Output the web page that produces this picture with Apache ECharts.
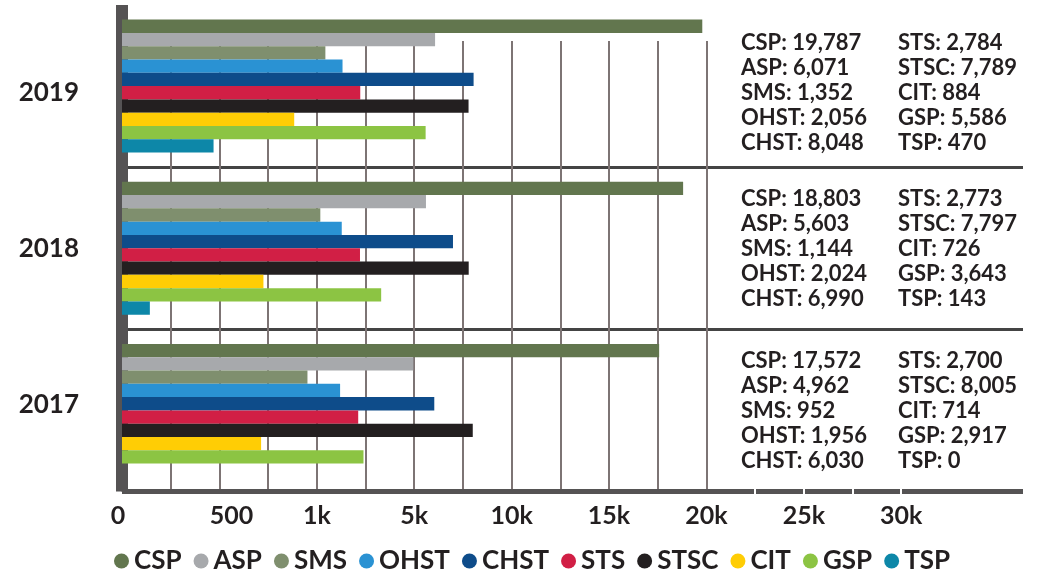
<!DOCTYPE html>
<html>
<head>
<meta charset="utf-8">
<script src="https://cdn.jsdelivr.net/npm/echarts@6.0.0/dist/echarts.min.js"></script>
<style>
html, body { margin: 0; padding: 0; background: #fff; }
#chart { width: 1037px; height: 572px; }
</style>
</head>
<body>
<div id="chart"></div>
<script>
var years = ['2019', '2018', '2017'];
var names = ['CSP', 'ASP', 'SMS', 'OHST', 'CHST', 'STS', 'STSC', 'CIT', 'GSP', 'TSP'];
var colors = ['#62764e', '#a7a9ac', '#7f8f6e', '#2a92d3', '#0e4c8a', '#d11f45', '#231f20', '#ffcd05', '#8cc443', '#0d87a8'];
var values2019 = [19787, 6071, 1352, 2056, 8048, 2784, 7789, 884, 5586, 470];
var values2018 = [18803, 5603, 1144, 2024, 6990, 2773, 7797, 726, 3643, 143];
var values2017 = [17572, 4962, 952, 1956, 6030, 2700, 8005, 714, 2917, 0];
var tickValues = [0, 500, 1000, 5000, 10000, 15000, 20000, 25000, 30000];
var tickLabels = ['0', '500', '1k', '5k', '10k', '15k', '20k', '25k', '30k'];

var byYear = [values2019, values2018, values2017];

// piecewise axis: every labelled step gets the same width
function toPos(v){
  for(var i = 0; i < tickValues.length - 1; i++){
    if(v <= tickValues[i+1]){
      return i + (v - tickValues[i]) / (tickValues[i+1] - tickValues[i]);
    }
  }
  return tickValues.length - 1;
}

function fmt(n){
  return n.toLocaleString('en-US');
}

var W = 1037, LEFT = 122, RIGHT = 14, MAXU = 9.25, BOTTOM = 80.5;
var unit = (W - LEFT - RIGHT) / MAXU;
var ink = '#231f20';
var font = 'Lato';

var series = [];
for(var i = 0; i < names.length; i++){
  series.push({
    name: names[i],
    type: 'bar',
    xAxisIndex: 0,
    yAxisIndex: 0,
    barWidth: 13.3,
    barGap: '0%',
    itemStyle: { color: colors[i] },
    emphasis: { disabled: true },
    data: byYear.map(function(arr){ return toPos(arr[i]); })
  });
}

// value boxes on the right
var graphics = [];
var blockTop = [30, 186, 348];
for(var y = 0; y < years.length; y++){
  var colA = [], colB = [];
  for(var k = 0; k < 5; k++){
    colA.push(names[k] + ': ' + fmt(byYear[y][k]));
    colB.push(names[k+5] + ': ' + fmt(byYear[y][k+5]));
  }
  graphics.push({
    type: 'text', left: 741, top: blockTop[y], silent: true,
    style: { text: colA.join('\n'), fill: ink, fontFamily: font, fontWeight: 'bold', fontSize: 22, lineHeight: 25.2 }
  });
  graphics.push({
    type: 'text', left: 898, top: blockTop[y], silent: true,
    style: { text: colB.join('\n'), fill: ink, fontFamily: font, fontWeight: 'bold', fontSize: 22, lineHeight: 25.2 }
  });
}

var option = {
  animation: false,
  backgroundColor: '#fff',
  textStyle: { fontFamily: font },
  grid: [
    { left: LEFT, right: RIGHT, top: 5, bottom: BOTTOM },
    // vertical grid lines, stop at 20k
    { left: LEFT, width: 6 * unit, top: 41, bottom: BOTTOM },
    // white notches in the base line past 20k
    { left: LEFT + 6.5 * unit, width: 1.5 * unit, top: 486, height: 11 }
  ],
  legend: {
    data: names,
    left: 109,
    top: 543,
    icon: 'circle',
    itemWidth: 15,
    itemHeight: 15,
    itemGap: 12,
    selectedMode: false,
    textStyle: { fontFamily: font, fontWeight: 'bold', fontSize: 26, color: ink, padding: [6, 0, 0, 0] }
  },
  xAxis: [
    {
      type: 'value', gridIndex: 0, min: 0, max: MAXU, interval: 0.5,
      axisLine: { show: true, lineStyle: { color: '#555354', width: 5, cap: 'butt' } },
      axisTick: { show: false },
      splitLine: { show: false },
      axisLabel: {
        margin: 12,
        fontFamily: font, fontWeight: 'bold', fontSize: 25, color: ink,
        formatter: function(v){
          var idx = Math.round(v);
          if(Math.abs(v - idx) > 0.001 || idx >= tickLabels.length) return '';
          if(idx === 0) return '{z|' + tickLabels[idx] + '}';
          if(idx === 1) return '{s|' + tickLabels[idx] + '}';
          return tickLabels[idx];
        },
        rich: {
          z: { fontFamily: font, fontWeight: 'bold', fontSize: 25, color: ink, padding: [0, 8, 0, 0] },
          s: { fontFamily: font, fontWeight: 'bold', fontSize: 25, color: ink, padding: [0, 0, 0, 24] }
        }
      }
    },
    {
      type: 'value', gridIndex: 1, min: 0, max: 6, interval: 0.5,
      axisLine: { show: false }, axisTick: { show: false }, axisLabel: { show: false },
      splitLine: { show: true, lineStyle: { color: '#7d7474', width: 2 } }
    },
    {
      type: 'value', gridIndex: 2, min: 6.5, max: 8, interval: 0.5, z: 5,
      axisLine: { show: false }, axisTick: { show: false }, axisLabel: { show: false },
      splitLine: { show: true, lineStyle: { color: '#ffffff', width: 2 } }
    }
  ],
  yAxis: [
    {
      type: 'category', gridIndex: 0, data: years, inverse: true, offset: 6,
      axisLine: { show: true, lineStyle: { color: '#555354', width: 12, cap: 'butt' } },
      axisTick: { show: false },
      splitLine: { show: true, lineStyle: { color: ['transparent', '#444', '#444', 'transparent'], width: 3 } },
      axisLabel: {
        margin: 37,
        fontFamily: font, fontWeight: 'bold', fontSize: 26, color: ink,
        formatter: function(v, i){
          return '{' + ['a', 'b', 'c'][i] + '|' + v + '}';
        },
        rich: {
          a: { fontFamily: font, fontWeight: 'bold', fontSize: 26, color: ink, padding: [14, 0, 0, 0] },
          b: { fontFamily: font, fontWeight: 'bold', fontSize: 26, color: ink },
          c: { fontFamily: font, fontWeight: 'bold', fontSize: 26, color: ink, padding: [0, 0, 11, 0] }
        }
      }
    },
    { type: 'category', gridIndex: 1, show: false, data: years },
    { type: 'category', gridIndex: 2, show: false, data: years }
  ],
  graphic: graphics,
  series: series
};

var myChart = echarts.init(document.getElementById('chart'));
myChart.setOption(option);
</script>
</body>
</html>
